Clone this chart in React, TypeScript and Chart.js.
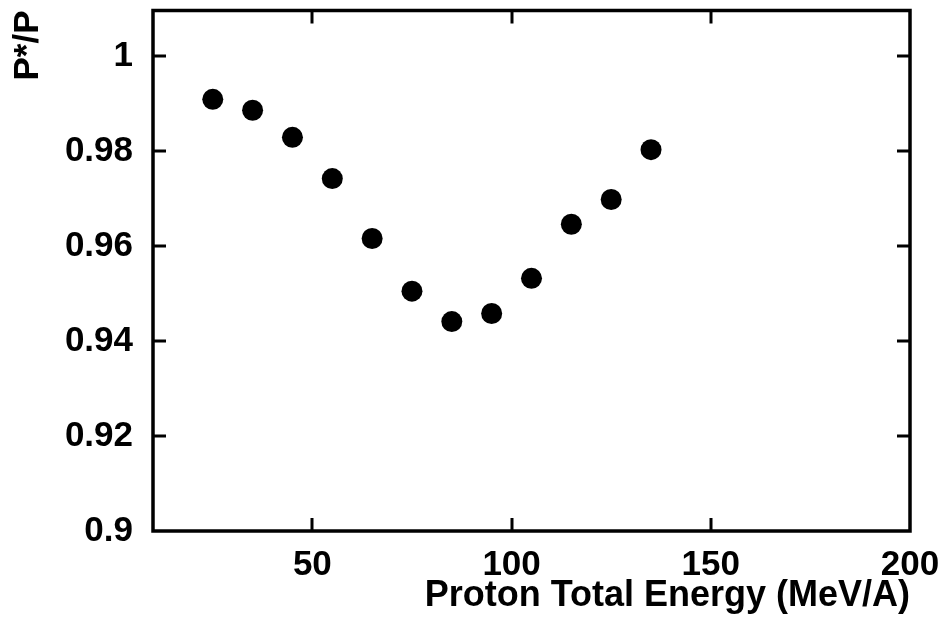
import React, { useEffect, useRef } from "react";
import { Chart, registerables } from "chart.js";

Chart.register(...registerables);

const energies = [25, 35, 45, 55, 65, 75, 85, 95, 105, 115, 125, 135];
const ratios = [0.9909, 0.9886, 0.9829, 0.9742, 0.9616, 0.9505, 0.9441, 0.9458, 0.9532, 0.9646, 0.9698, 0.9803];
const xTicks = [50, 100, 150, 200];
const yTicks = [0.9, 0.92, 0.94, 0.96, 0.98, 1];
const xTitle = "Proton Total Energy (MeV/A)";
const yTitle = "P*/P";

const FONT = "'Liberation Sans', Arial, Helvetica, sans-serif";
const FS = 35;

const framePlugin = {
  id: "frameTicks",
  afterDatasetsDraw(chart: any) {
    const { ctx, chartArea } = chart;
    const { left, right, top, bottom } = chartArea;
    const xs = chart.scales.x;
    const ys = chart.scales.y;
    const len = 13;
    ctx.save();
    ctx.strokeStyle = "#000";
    ctx.lineWidth = 3;
    ctx.lineCap = "butt";
    ctx.beginPath();
    for (const v of xTicks) {
      const px = Math.round(xs.getPixelForValue(v));
      if (px > left + 2 && px < right - 2) {
        ctx.moveTo(px, bottom);
        ctx.lineTo(px, bottom - len);
        ctx.moveTo(px, top);
        ctx.lineTo(px, top + len);
      }
    }
    for (const v of yTicks) {
      const py = Math.round(ys.getPixelForValue(v));
      if (py > top + 2 && py < bottom - 2) {
        ctx.moveTo(left, py);
        ctx.lineTo(left + len, py);
        ctx.moveTo(right, py);
        ctx.lineTo(right - len, py);
      }
    }
    ctx.stroke();
    ctx.lineWidth = 3.5;
    ctx.strokeRect(left, top, right - left, bottom - top);
    ctx.restore();
  },
};

export default function App() {
  const ref = useRef<HTMLCanvasElement | null>(null);
  useEffect(() => {
    if (!ref.current) return;
    const chart = new Chart(ref.current, {
      type: "scatter",
      data: {
        datasets: [
          {
            data: energies.map((e, i) => ({ x: e, y: ratios[i] })),
            backgroundColor: "#000",
            borderColor: "#000",
            pointRadius: 10.5,
            pointHoverRadius: 10.5,
            borderWidth: 0,
          },
        ],
      },
      options: {
        responsive: false,
        animation: false,
        events: [],
        layout: { padding: { left: 0, right: 32, top: 8, bottom: 0 } },
        plugins: {
          legend: { display: false },
          tooltip: { enabled: false },
        },
        scales: {
          x: {
            type: "linear",
            min: 10,
            max: 200,
            afterBuildTicks: (s: any) => {
              s.ticks = xTicks.map((v) => ({ value: v }));
            },
            afterFit: (s: any) => {
              s.height = 91;
              s.paddingLeft = 0;
              s.paddingRight = 0;
            },
            grid: { display: false, drawTicks: false },
            border: { display: false },
            ticks: {
              color: "#000",
              padding: 13,
              maxRotation: 0,
              font: { family: FONT, size: FS, weight: "bold" },
              callback: (v: any) => String(v),
            },
            title: {
              display: true,
              text: xTitle,
              align: "end",
              color: "#000",
              font: { family: FONT, size: 36, weight: "bold" },
              padding: { top: 0, bottom: 4 },
            },
          },
          y: {
            type: "linear",
            min: 0.9,
            max: 1.0096,
            afterBuildTicks: (s: any) => {
              s.ticks = yTicks.map((v) => ({ value: v }));
            },
            afterFit: (s: any) => {
              s.width = 153;
              s.paddingTop = 0;
              s.paddingBottom = 0;
            },
            grid: { display: false, drawTicks: false },
            border: { display: false },
            ticks: {
              color: "#000",
              padding: 20,
              font: { family: FONT, size: FS, weight: "bold" },
              callback: (v: any) => {
                const n = Number(v);
                return Math.abs(n - 1) < 1e-9 ? "1" : n.toFixed(2).replace(/0$/, "");
              },
            },
            title: {
              display: true,
              text: yTitle,
              align: "end",
              color: "#000",
              font: { family: FONT, size: FS, weight: "bold" },
              padding: { top: 7, bottom: 0 },
            },
          },
        },
      },
      plugins: [framePlugin],
    } as any);
    return () => chart.destroy();
  }, []);
  return (
    <div style={{ position: "absolute", left: 0, top: 0, width: 942, height: 622, background: "#fff" }}>
      <canvas ref={ref} width={942} height={622} style={{ display: "block" }} />
    </div>
  );
}
